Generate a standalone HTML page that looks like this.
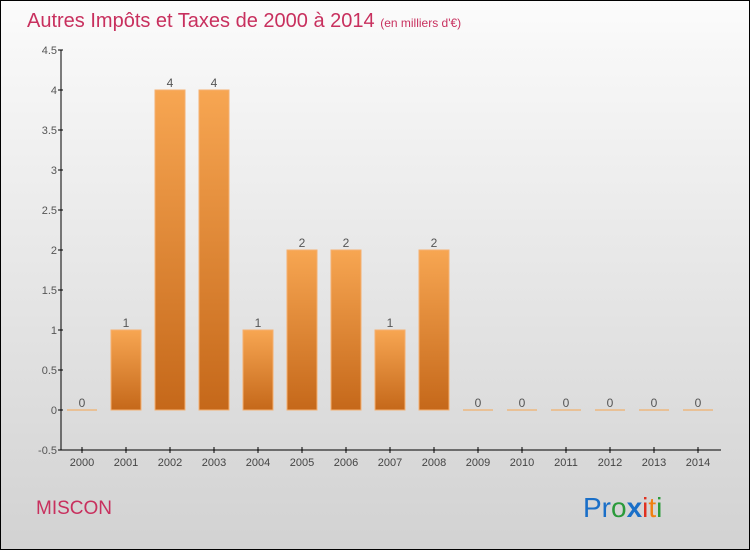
<!DOCTYPE html>
<html><head><meta charset="utf-8"><style>
body{margin:0}
#root{position:relative;width:748px;height:548px;border:1px solid #000;background:linear-gradient(#fbfbfb,#d2d2d2);font-family:"Liberation Sans",sans-serif;overflow:hidden}
</style></head><body>
<div id="root">
<svg width="748" height="548" style="position:absolute;left:0;top:0">
<defs><linearGradient id="g" x1="0" y1="0" x2="0" y2="1"><stop offset="0" stop-color="#f7a652"/><stop offset="1" stop-color="#c5681a"/></linearGradient></defs>
<text x="26" y="26" font-size="20" fill="#c8305e">Autres Impôts et Taxes de 2000 à 2014 <tspan font-size="12">(en milliers d'€)</tspan></text>
<g id="plot"></g>
<text x="35" y="513" font-size="19" fill="#c8305e">MISCON</text>
<text x="582" y="516" font-size="28"><tspan fill="#1a6fc8">Pr</tspan><tspan fill="#2a9a3a">o</tspan><tspan fill="#1a6fc8" font-weight="bold">x</tspan><tspan fill="#e03020">i</tspan><tspan fill="#f08010">t</tspan><tspan fill="#2a9a3a">i</tspan></text>
</svg>
</div>
<script>
const years=["2000","2001","2002","2003","2004","2005","2006","2007","2008","2009","2010","2011","2012","2013","2014"];
const values=[0,1,4,4,1,2,2,1,2,0,0,0,0,0,0];
const yTicks=[-0.5,0,0.5,1,1.5,2,2.5,3,3.5,4,4.5];
const yTickLabels=["-0.5","0","0.5","1","1.5","2","2.5","3","3.5","4","4.5"];
const ns="http://www.w3.org/2000/svg";
const g=document.getElementById('plot');
const y=v=>409-(v)*80;
const x=i=>81+i*44;
function mk(t,a){const e=document.createElementNS(ns,t);for(const k in a)e.setAttribute(k,a[k]);g.appendChild(e);return e;}
let e=mk('line',{x1:60,y1:49,x2:60,y2:449,stroke:'#000'});


e=mk('line',{x1:60,y1:449,x2:720,y2:449,stroke:'#000'});


yTicks.forEach((v,i)=>{
 mk('line',{x1:57,x2:62,y1:y(v),y2:y(v),stroke:'#000'});
 const t=mk('text',{x:56,y:y(v)+4,'text-anchor':'end','font-size':11,fill:'#555'});
 t.textContent=yTickLabels[i];
 
 
});
years.forEach((yr,i)=>{
 const cx=x(i),v=values[i];
 mk('line',{x1:cx,x2:cx,y1:446,y2:452,stroke:'#000'});
 const t=mk('text',{x:cx,y:465,'text-anchor':'middle','font-size':11,fill:'#444'});
 t.textContent=yr;
 
 
 const top=y(v),h=Math.max(y(0)-top,1);
 const b=mk('rect',{x:cx-15,y:v>0?top:y(0)-0.5,width:30,height:h,fill:v>0?'url(#g)':'#f5a550',stroke:v>0?'#f5b070':'none'});
 
 
 const l=mk('text',{x:cx,y:top-3,'text-anchor':'middle','font-size':12,fill:'#555'});
 l.textContent=v;
 
 
});
</script>
</body></html>
